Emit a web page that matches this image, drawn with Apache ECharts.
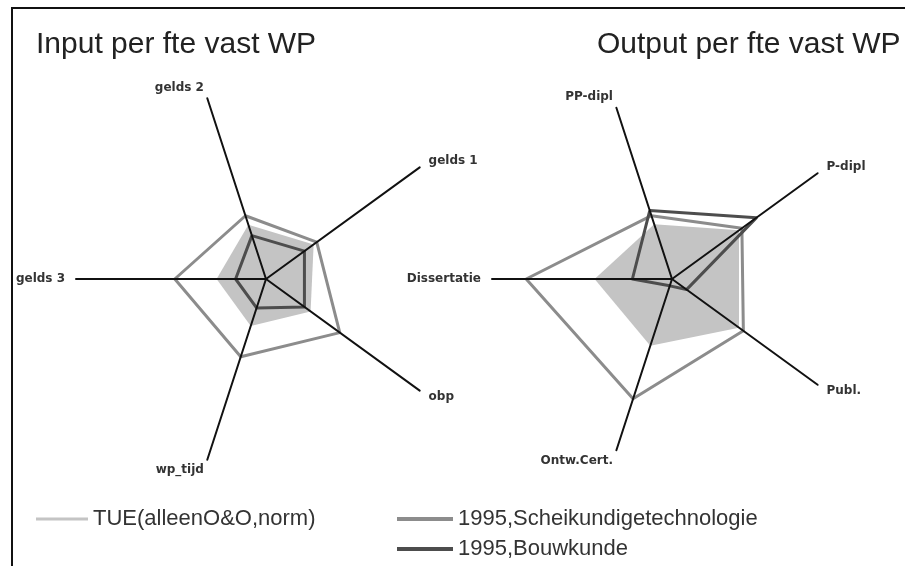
<!DOCTYPE html>
<html>
<head>
<meta charset="utf-8">
<script src="https://cdn.jsdelivr.net/npm/echarts@6/dist/echarts.min.js"></script>
<style>
  html, body { margin: 0; padding: 0; background: #fff; }
  #main { width: 905px; height: 566px; }
</style>
</head>
<body>
<div id="main"></div>
<script>
// axes, listed counterclockwise from the top-left spoke
const inputAxes = ['gelds 2', 'gelds 3', 'wp_tijd', 'obp', 'gelds 1'];
const outputAxes = ['PP-dipl', 'Dissertatie', 'Ontw.Cert.', 'Publ.', 'P-dipl'];
const seriesNames = ['TUE(alleenO&O,norm)', '1995,Scheikundigetechnologie', '1995,Bouwkunde'];

// values in % of axis length
const inputTUE = [30, 26, 26, 29, 31];
const inputScheik = [35, 48, 43, 48, 33];
const inputBouw = [24, 16, 16, 25, 25];
const outputTUE = [32, 43, 39, 46, 46];
const outputScheik = [37, 81, 70, 49, 48];
const outputBouw = [40, 22, 4, 10, 58];

const colors = ['#c4c4c4', '#8c8c8c', '#4d4d4d'];

const chart = echarts.init(document.getElementById('main'));

function radarBox(center, radius, axes) {
  return {
    center: center,
    radius: radius,
    startAngle: 108,
    shape: 'polygon',
    splitNumber: 1,
    nameGap: 11,
    z: 5,
    indicator: axes.map(n => ({ name: n, max: 100 })),
    axisName: {
      color: '#333',
      fontSize: 12,
      fontWeight: 'bold',
      fontFamily: 'DejaVu Sans'
    },
    axisLine: { lineStyle: { color: '#111', width: 2 } },
    axisTick: { show: false },
    axisLabel: { show: false },
    splitLine: { show: false },
    splitArea: { show: false }
  };
}

function radarSeries(idx, tue, scheik, bouw) {
  return [
    {
      type: 'radar',
      radarIndex: idx,
      symbol: 'none',
      z: 1,
      data: [{
        name: seriesNames[0],
        value: tue,
        itemStyle: { color: colors[0] },
        lineStyle: { width: 0, color: colors[0] },
        areaStyle: { color: colors[0], opacity: 1 }
      }]
    },
    {
      type: 'radar',
      radarIndex: idx,
      symbol: 'none',
      z: 2,
      data: [
        {
          name: seriesNames[1],
          value: scheik,
          itemStyle: { color: colors[1] },
          lineStyle: { width: 3, color: colors[1] }
        },
        {
          name: seriesNames[2],
          value: bouw,
          itemStyle: { color: colors[2] },
          lineStyle: { width: 3, color: colors[2] }
        }
      ]
    }
  ];
}

const legendText = { fontSize: 22, color: '#333', fontFamily: 'Liberation Sans' };

const option = {
  animation: false,
  backgroundColor: '#fff',
  title: [
    {
      text: 'Input per fte vast WP',
      left: 36, top: 30, padding: 0,
      textStyle: { fontSize: 30, fontWeight: 'normal', color: '#222', fontFamily: 'Liberation Sans' }
    },
    {
      text: 'Output per fte vast WP',
      left: 597, top: 30, padding: 0,
      textStyle: { fontSize: 30, fontWeight: 'normal', color: '#222', fontFamily: 'Liberation Sans' }
    }
  ],
  legend: [
    {
      left: 36, top: 508, padding: 0,
      icon: 'rect', itemWidth: 52, itemHeight: 3,
      data: [{ name: seriesNames[0], itemStyle: { color: colors[0] } }],
      textStyle: legendText,
      selectedMode: false
    },
    {
      left: 397, top: 508, padding: 0, orient: 'vertical', itemGap: 8,
      icon: 'rect', itemWidth: 56, itemHeight: 4,
      data: [
        { name: seriesNames[1], itemStyle: { color: colors[1] } },
        { name: seriesNames[2], itemStyle: { color: colors[2] } }
      ],
      textStyle: legendText,
      selectedMode: false
    }
  ],
  radar: [
    radarBox([266, 279], 190, inputAxes),
    radarBox([672, 279], 180, outputAxes)
  ],
  graphic: [{
    type: 'rect',
    silent: true,
    z: 100,
    shape: { x: 12, y: 8, width: 1000, height: 1000 },
    style: { fill: 'transparent', stroke: '#111', lineWidth: 2 }
  }],
  series: [].concat(
    radarSeries(0, inputTUE, inputScheik, inputBouw),
    radarSeries(1, outputTUE, outputScheik, outputBouw)
  )
};

chart.setOption(option);
</script>
</body>
</html>
